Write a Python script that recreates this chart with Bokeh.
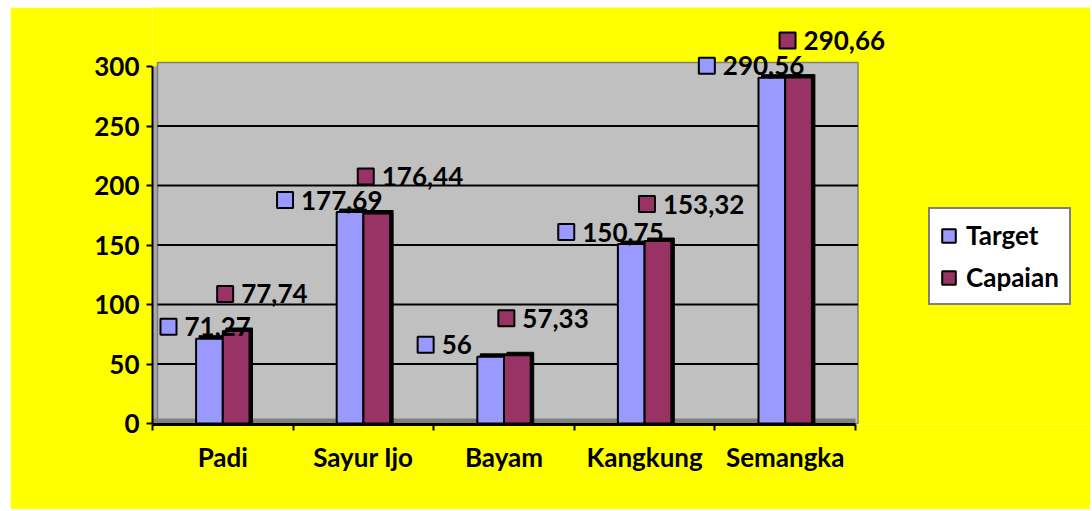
from bokeh.plotting import figure
from bokeh.models import (Range1d, FixedTicker, Legend, LegendItem, ColumnDataSource, Spacer)
from bokeh.layouts import column, row
from bokeh.core.properties import value
from bokeh.embed import file_html
from bokeh.resources import INLINE

# ---- data ----
categories = ["Padi", "Sayur Ijo", "Bayam", "Kangkung", "Semangka"]
target = [71.27, 177.69, 56, 150.75, 290.56]
capaian = [77.74, 176.44, 57.33, 153.32, 290.66]
y_ticks = [0, 50, 100, 150, 200, 250, 300]
series_names = ["Target", "Capaian"]
series_colors = ["#9999FF", "#993366"]

# ---- layout constants ----
W, H = 1080, 502
BORDER_L, BORDER_B = 142, 85
CAT_PX = 140.6            # pixels per category
PX_Y = 357 / 300          # pixels per value unit
frame_w = W - BORDER_L
frame_h = H - BORDER_B
x_end = frame_w / CAT_PX
y_start = -1 / PX_Y
y_end = y_start + frame_h / PX_Y
FONT = value("Lato")
FS = "26px"
BAR_W = 0.19
OFFS = [-0.095, 0.095]

p = figure(width=W, height=H, output_backend="svg", toolbar_location=None,
           x_range=Range1d(0, x_end), y_range=Range1d(y_start, y_end),
           min_border_left=BORDER_L, min_border_right=0, min_border_top=0,
           min_border_bottom=BORDER_B)
p.background_fill_color = "#FFFF00"
p.border_fill_color = "#FFFF00"
p.outline_line_color = None
p.xgrid.visible = False
p.ygrid.visible = False

n = len(categories)
ymax = y_ticks[-1]
dx3 = 5 / CAT_PX
# walls
p.quad(left=[0], right=[dx3], bottom=[0], top=[ymax], fill_color="#A8A8A8", line_color=None)
p.quad(left=[dx3], right=[n + dx3 / 2], bottom=[0], top=[ymax + 4 / PX_Y],
       fill_color="#C0C0C0", line_color="#808080", line_width=1.5)
p.quad(left=[0], right=[n], bottom=[0], top=[5 / PX_Y], fill_color="#808080", line_color=None)
# gridlines
grid_vals = y_ticks[1:-1]
p.segment(x0=[dx3] * len(grid_vals), x1=[n + dx3 / 2] * len(grid_vals),
          y0=grid_vals, y1=grid_vals, line_color="black", line_width=2)

centers = [i + 0.5 for i in range(n)]
renderers = []
for vals, off, col in zip([target, capaian], OFFS, series_colors):
    xs = [c + off for c in centers]
    # 3D depth
    p.vbar(x=[x + 3 / CAT_PX for x in xs], top=[v + 3 / PX_Y for v in vals], bottom=0,
           width=BAR_W, fill_color="black", line_color="black", line_width=1)
    r = p.vbar(x=xs, top=vals, bottom=0, width=BAR_W, fill_color=col,
               line_color="black", line_width=2)
    renderers.append(r)

# data labels
label_shift = [(-65, 12), (-11, 37)]   # pixel shift of label square from bar top centre
min_x = 16 / CAT_PX
for vals, off, col, (sx, sy) in zip([target, capaian], OFFS, series_colors, label_shift):
    xs = [max(c + off + sx / CAT_PX, min_x) for c in centers]
    ys = [v + sy / PX_Y for v in vals]
    txt = [f"{v:g}".replace(".", ",") for v in vals]
    p.scatter(x=xs, y=ys, marker="square", size=16, fill_color=col,
              line_color="black", line_width=2)
    src = ColumnDataSource(dict(x=xs, y=ys, t=txt))
    p.text(x="x", y="y", text="t", source=src, x_offset=16, text_baseline="middle",
           text_align="left", text_font=FONT, text_font_style="bold",
           text_font_size=FS, text_color="black")

# axes
for ax in (p.yaxis[0], p.xaxis[0]):
    ax.axis_line_color = "black"
    ax.major_label_text_font = "Lato"
    ax.major_label_text_font_style = "bold"
    ax.major_label_text_font_size = FS
    ax.major_label_text_color = "black"

yax = p.yaxis[0]
yax.ticker = FixedTicker(ticks=y_ticks)
yax.bounds = (0, ymax)
yax.axis_line_width = 2
yax.major_tick_line_color = "black"
yax.major_tick_line_width = 2
yax.major_tick_out = 6
yax.major_tick_in = 0
yax.minor_tick_line_color = None
yax.major_label_standoff = 7

xax = p.xaxis[0]
xax.ticker = FixedTicker(ticks=centers, minor_ticks=list(range(n + 1)))
xax.major_label_overrides = {c: name for c, name in zip(centers, categories)}
xax.bounds = (0, n)
xax.axis_line_width = 3
xax.major_tick_line_color = None
xax.minor_tick_line_color = "black"
xax.minor_tick_line_width = 2
xax.minor_tick_out = 6
xax.minor_tick_in = 0
xax.major_label_standoff = 10

legend = Legend(items=[LegendItem(label=nm, renderers=[r]) for nm, r in zip(series_names, renderers)],
                location=(776, 119))
legend.border_line_color = "black"
legend.border_line_width = 2
legend.background_fill_color = "white"
legend.background_fill_alpha = 1
legend.label_text_font = "Lato"
legend.label_text_font_style = "bold"
legend.label_text_font_size = FS
legend.label_text_color = "black"
legend.glyph_width = 17
legend.glyph_height = 17
legend.label_standoff = 9
legend.padding = 10
legend.spacing = 10
legend.label_height = 30
legend.margin = 0
p.add_layout(legend)

page = column(Spacer(height=7), row(Spacer(width=10), p))
open("out.html", "w").write(file_html(page, INLINE))
